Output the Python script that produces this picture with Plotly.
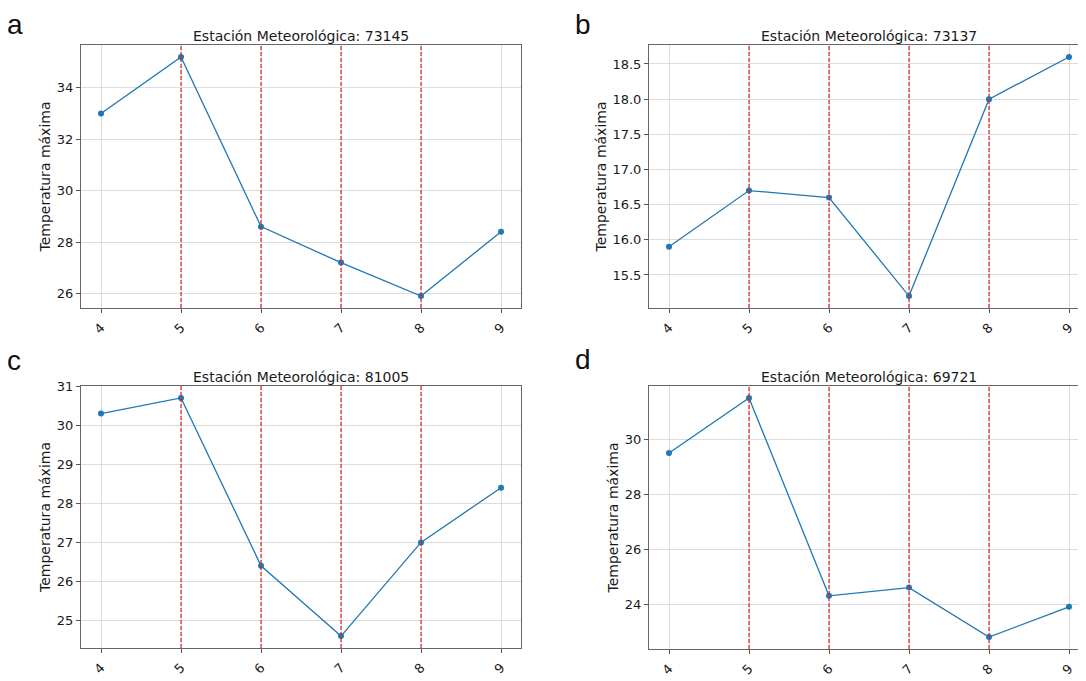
import plotly.graph_objects as go

months = [4, 5, 6, 7, 8, 9]
vline_months = [5, 6, 7, 8]
titles = ["Estación Meteorológica: 73145", "Estación Meteorológica: 73137",
          "Estación Meteorológica: 81005", "Estación Meteorológica: 69721"]
letters = ["a", "b", "c", "d"]
temp_73145 = [33.0, 35.2, 28.6, 27.2, 25.9, 28.4]
temp_73137 = [15.9, 16.7, 16.6, 15.2, 18.0, 18.6]
temp_81005 = [30.3, 30.7, 26.4, 24.6, 27.0, 28.4]
temp_69721 = [29.5, 31.5, 24.3, 24.6, 22.8, 23.9]
series = [temp_73145, temp_73137, temp_81005, temp_69721]
dticks = [2, 0.5, 1, 2]
tickfmts = ["d", ".1f", "d", "d"]

# the page body adds an 8px margin, so the figure is sized to the visible area
W, H = 1078, 673
# panel frames in figure pixels: (left, right, top, bottom)
frames = [(73, 513, 37, 300), (641, 1078, 37, 300), (73, 513, 378, 640), (641, 1078, 378, 641)]
# letter boxes: (left, top) in figure pixels
letter_pos = [(-2, 0), (566, 0), (-2, 336), (566, 335)]

fig = go.Figure()
font_main = "DejaVu Sans"
blue = "#1f77b4"
txt = "#1a1a1a"
shapes = []
annotations = []
for i, (vals, (l, r, t, b)) in enumerate(zip(series, frames)):
    n = "" if i == 0 else str(i + 1)
    xa, ya = "x" + n, "y" + n
    fig.add_trace(go.Scatter(x=months, y=vals, mode="lines+markers",
                             line=dict(color=blue, width=1.3),
                             marker=dict(color=blue, size=6),
                             xaxis=xa, yaxis=ya, showlegend=False))
    lo, hi = min(vals), max(vals)
    m = (hi - lo) * 0.05
    xr = [3.75, 3.75 + (r - l) / 80.0]
    right_cut = r >= W
    fig.layout["xaxis" + n] = dict(
        domain=[l / W, r / W], anchor=ya, range=xr, tickmode="array",
        tickvals=months, ticktext=[str(v) for v in months], tickangle=-45,
        automargin=False, ticklabelstandoff=2,
        showgrid=True, gridcolor="#dcdcdc", gridwidth=1, zeroline=False,
        showline=True, linecolor="#666666", linewidth=1, mirror=True,
        ticks="outside", ticklen=4, tickcolor="#555555",
        tickfont=dict(family=font_main, size=13, color=txt))
    fig.layout["yaxis" + n] = dict(
        domain=[1 - b / H, 1 - t / H], anchor=xa, range=[lo - m, hi + m],
        dtick=dticks[i], tickformat=tickfmts[i], automargin=False,
        showgrid=True, gridcolor="#dcdcdc", gridwidth=1, zeroline=False,
        showline=True, linecolor="#666666", linewidth=1, mirror=not right_cut,
        ticks="outside", ticklen=4, tickcolor="#555555",
        tickfont=dict(family=font_main, size=13, color=txt),
        title=dict(text="Temperatura máxima", standoff=2,
                   font=dict(family=font_main, size=14, color=txt)))
    for vm in vline_months:
        shapes.append(dict(type="line", xref=xa, yref=ya + " domain", x0=vm, x1=vm,
                           y0=0, y1=1, layer="above",
                           line=dict(color="#dd2222", width=1.2, dash="4px,2px")))
    annotations.append(dict(text=titles[i], xref=xa + " domain", yref=ya + " domain",
                            x=0.5 if not right_cut else 220.0 / (r - l),
                            y=1, yanchor="bottom", xanchor="center", showarrow=False,
                            yshift=-1,
                            font=dict(family=font_main, size=14, color=txt)))
    lx, ly = letter_pos[i]
    annotations.append(dict(text=letters[i], xref="paper", yref="paper",
                            x=lx / W, y=1 - ly / H, xanchor="left", yanchor="top",
                            showarrow=False, borderpad=0,
                            font=dict(family="Liberation Sans", size=28, color="#111111")))

fig.update_layout(width=W, height=H, margin=dict(l=0, r=0, t=0, b=0),
                  template="none",
                  paper_bgcolor="white", plot_bgcolor="white",
                  shapes=shapes, annotations=annotations)
fig.write_html("out.html")
